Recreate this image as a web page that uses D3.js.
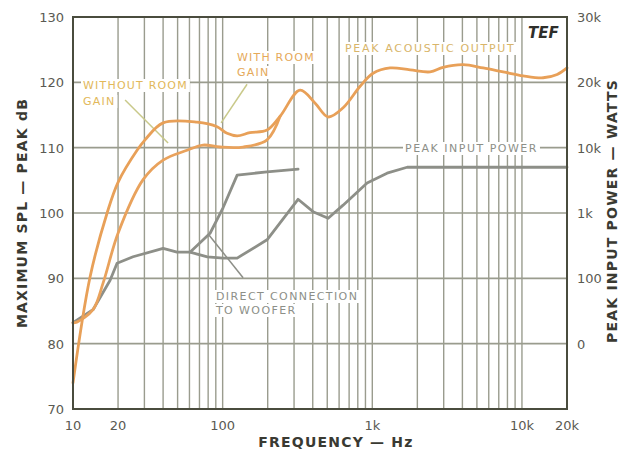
<!doctype html>
<html lang="en">
<head>
<meta charset="utf-8"/>
<title>Maximum SPL vs frequency</title>
<script src="https://d3js.org/d3.v7.min.js"></script>
<style>
  body { margin: 0; background: #fff; }
  text { font-family: "DejaVu Sans", sans-serif; }
</style>
</head>
<body>
<svg id="chart"></svg>
<script>
// frequency (Hz), max SPL (dB)
const withRoomGain = [
  [10, 74.0], [13, 90.2], [16.9, 100.0], [20, 104.7], [26.8, 109.6], [30.3, 111.2],
  [40, 113.8], [67.4, 113.9], [91.8, 113.2], [107, 112.2], [125, 111.8], [152, 112.3],
  [198, 112.7], [242, 114.8], [329, 118.8], [415, 116.8], [507, 114.7], [638, 116.1],
  [829, 119.4], [1012, 121.4], [1315, 122.2], [1790, 121.9], [2434, 121.6], [2972, 122.3],
  [4046, 122.7], [5506, 122.2], [7490, 121.6], [10190, 121.0], [13870, 120.7],
  [17190, 121.2], [20000, 122.2]
];
const withoutRoomGain = [
  [10, 83.2], [10.6, 83.3], [13.6, 85.2], [15.9, 89.3], [20, 96.9], [29.4, 105.1],
  [40, 108.1], [57.8, 109.6], [74, 110.4], [96, 110.1], [137, 110.1], [198, 111.2],
  [242, 114.8]
];
const directToWoofer = [
  [10, 83.2], [13.6, 85.2], [17.7, 89.7], [19.7, 92.3], [25.2, 93.3], [40, 94.6],
  [49.6, 94.0], [60.5, 94.0], [82.4, 96.9], [100.6, 100.8], [125, 105.8], [198, 106.3],
  [319, 106.7]
];
const peakInputPower = [
  [60.5, 94.0], [79, 93.3], [100.6, 93.1], [125, 93.1], [198, 95.9], [319, 102.1],
  [402, 100.2], [507, 99.2], [638, 101.2], [923, 104.6], [1255, 106.1], [1709, 107.0],
  [20000, 107.0]
];

const xTickLabels = [[10, "10"], [20, "20"], [100, "100"], [1000, "1k"], [10000, "10k"], [20000, "20k"]];
const leftTicks = [70, 80, 90, 100, 110, 120, 130];
const rightTickLabels = [[130, "30k"], [120, "20k"], [110, "10k"], [100, "1k"], [90, "100"], [80, "0"]];
const hGrid = [80, 90, 100, 110, 120];

const width = 626, height = 457;
const svg = d3.select("#chart").attr("width", width).attr("height", height);

const x = d3.scaleLog().domain([10, 20000]).range([73, 567]);
const y = d3.scaleLinear().domain([70, 130]).range([409, 17]);

const gridColor = "#9a9c8e";

// grid
const grid = svg.append("g");
grid.selectAll("line.v")
  .data(x.ticks())
  .enter().append("line")
  .attr("x1", d => x(d)).attr("x2", d => x(d))
  .attr("y1", y(130)).attr("y2", y(70))
  .attr("stroke", gridColor).attr("stroke-width", 1.4);
grid.selectAll("line.h")
  .data(hGrid)
  .enter().append("line")
  .attr("x1", x(10)).attr("x2", x(20000))
  .attr("y1", d => y(d)).attr("y2", d => y(d))
  .attr("stroke", gridColor).attr("stroke-width", 1.6);

// labels drawn on white patches so the grid breaks around them
function label(g, px, py, lines, color, size, lh, ls) {
  lines.forEach((t, i) => {
    const tx = g.append("text")
      .attr("x", px).attr("y", py + i * lh)
      .attr("fill", color).attr("font-size", size)
      .attr("letter-spacing", ls || 1.2)
      .text(t);
    const b = tx.node().getBBox();
    g.insert("rect", "text")
      .attr("x", b.x - 2).attr("y", b.y).attr("width", b.width + 4).attr("height", b.height)
      .attr("fill", "#fff");
  });
}

// leader lines
const leaders = [
  [[22.3, 117.3], [43.2, 110.7]],
  [[145.6, 119.7], [97.7, 113.8]],
  [[80.5, 96.7], [137, 90.1]]
];
svg.append("g").selectAll("line")
  .data(leaders)
  .enter().append("line")
  .attr("x1", d => x(d[0][0])).attr("y1", d => y(d[0][1]))
  .attr("x2", d => x(d[1][0])).attr("y2", d => y(d[1][1]))
  .attr("stroke", (d, i) => i == 2 ? "#8d8f88" : "#c9c98a")
  .attr("stroke-width", 1.5);

const lab = svg.append("g");
label(lab, 83, 89, ["WITHOUT ROOM", "GAIN"], "#e2b85a", 11, 16);
label(lab, 237, 61, ["WITH ROOM", "GAIN"], "#e5a95a", 11, 15);
label(lab, 345, 52, ["PEAK ACOUSTIC OUTPUT"], "#d8b56a", 11, 15, 1.7);
label(lab, 405, 152, ["PEAK INPUT POWER"], "#8d8f88", 11, 15, 1.5);
label(lab, 216, 300, ["DIRECT CONNECTION", "TO WOOFER"], "#8d8f88", 11, 14, 1.4);

// curves
const line = d3.line().x(d => x(d[0])).y(d => y(d[1]));
const smooth = d3.line().x(d => x(d[0])).y(d => y(d[1])).curve(d3.curveCatmullRom.alpha(0.5));

const curves = svg.append("g").attr("fill", "none").attr("stroke-linejoin", "round").attr("stroke-linecap", "round");
curves.append("path").attr("d", line(directToWoofer)).attr("stroke", "#8d8f88").attr("stroke-width", 2.8);
curves.append("path").attr("d", line(peakInputPower)).attr("stroke", "#8d8f88").attr("stroke-width", 2.8);
curves.append("path").attr("d", smooth(withoutRoomGain)).attr("stroke", "#e9a25c").attr("stroke-width", 2.8);
curves.append("path").attr("d", smooth(withRoomGain)).attr("stroke", "#e8a058").attr("stroke-width", 2.8);

// frame
svg.append("rect")
  .attr("x", x(10)).attr("y", y(130))
  .attr("width", x(20000) - x(10)).attr("height", y(70) - y(130))
  .attr("fill", "none").attr("stroke", "#4a4c3e").attr("stroke-width", 2);

svg.append("text")
  .attr("x", 528).attr("y", 38)
  .attr("font-size", 15).attr("font-weight", "bold").attr("font-style", "italic")
  .attr("fill", "#2e2e2a").text("TEF");

// axes text
const tickColor = "#5a5a52";
svg.append("g").selectAll("text")
  .data(leftTicks)
  .enter().append("text")
  .attr("x", 64).attr("y", d => y(d) + 5)
  .attr("text-anchor", "end").attr("font-size", 13).attr("fill", tickColor)
  .text(d => d);

svg.append("g").selectAll("text")
  .data(rightTickLabels)
  .enter().append("text")
  .attr("x", 577).attr("y", d => y(d[0]) + 5)
  .attr("font-size", 13).attr("fill", tickColor)
  .text(d => d[1]);

svg.append("g").selectAll("text")
  .data(xTickLabels)
  .enter().append("text")
  .attr("x", d => x(d[0])).attr("y", 430)
  .attr("text-anchor", "middle").attr("font-size", 13).attr("fill", tickColor)
  .text(d => d[1]);

svg.append("text")
  .attr("x", 336).attr("y", 447)
  .attr("text-anchor", "middle").attr("font-size", 14).attr("font-weight", "bold")
  .attr("letter-spacing", 1.2).attr("fill", "#3a3a32")
  .text("FREQUENCY — Hz");

svg.append("text")
  .attr("transform", "translate(27,213) rotate(-90)")
  .attr("text-anchor", "middle").attr("font-size", 14).attr("font-weight", "bold")
  .attr("letter-spacing", 1.2).attr("fill", "#3a3a32")
  .text("MAXIMUM SPL — PEAK dB");

svg.append("text")
  .attr("transform", "translate(617,211) rotate(-90)")
  .attr("text-anchor", "middle").attr("font-size", 14).attr("font-weight", "bold")
  .attr("letter-spacing", 1.2).attr("fill", "#3a3a32")
  .text("PEAK INPUT POWER — WATTS");
</script>
</body>
</html>
